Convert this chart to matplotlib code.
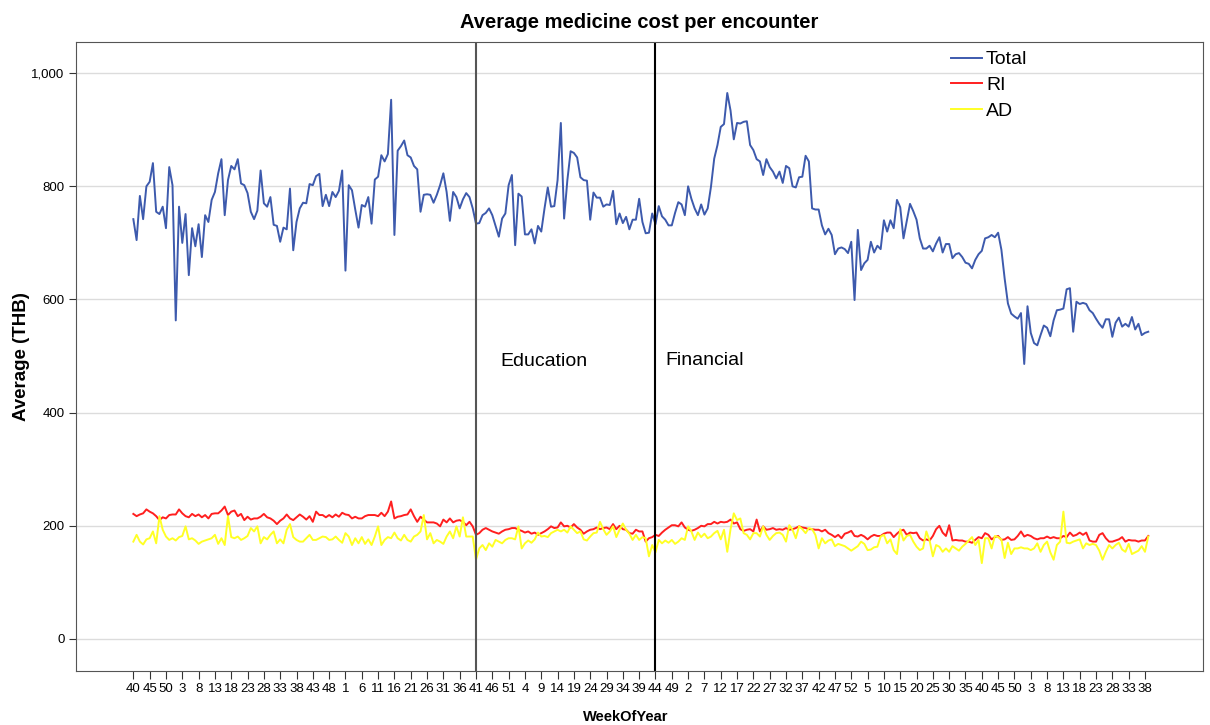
import numpy as np
import matplotlib.pyplot as plt

plt.rcParams['font.family'] = ['Liberation Sans', 'DejaVu Sans']

# average medicine cost per encounter (THB), one value per week
total = [
    742, 705, 783, 742, 800, 808, 841, 755, 751, 764,
    726, 834, 802, 563, 764, 700, 751, 643, 726, 694,
    733, 675, 749, 737, 776, 790, 823, 848, 749, 811,
    836, 830, 848, 805, 802, 788, 755, 742, 757, 828,
    770, 764, 781, 732, 730, 702, 727, 724, 796, 687,
    737, 761, 771, 770, 804, 802, 818, 822, 765, 785,
    765, 790, 781, 792, 828, 651, 802, 793, 759, 727,
    767, 764, 781, 734, 812, 817, 855, 844, 857, 953,
    714, 863, 871, 881, 855, 851, 836, 830, 755, 785,
    786, 785, 771, 785, 802, 823, 790, 739, 790, 781,
    761, 777, 788, 781, 761, 734, 735, 749, 753, 761,
    749, 730, 711, 743, 752, 802, 820, 696, 787, 782,
    715, 715, 724, 699, 730, 720, 761, 798, 764, 765,
    811, 912, 743, 811, 862, 859, 851, 816, 811, 810,
    741, 789, 780, 780, 764, 768, 767, 792, 733, 752,
    735, 746, 724, 741, 741, 778, 737, 717, 718, 752,
    733, 765, 747, 741, 731, 731, 753, 772, 768, 749,
    800, 778, 761, 749, 768, 750, 761, 799, 849, 873,
    905, 910, 965, 934, 883, 912, 911, 914, 915, 873,
    864, 848, 844, 820, 848, 834, 826, 814, 826, 806,
    836, 832, 800, 798, 816, 817, 854, 844, 761, 759,
    759, 731, 715, 725, 714, 680, 690, 692, 689, 682,
    702, 599, 723, 652, 664, 670, 702, 683, 695, 689,
    740, 720, 740, 726, 776, 763, 708, 738, 769, 756,
    741, 708, 690, 690, 695, 685, 699, 710, 683, 698,
    698, 673, 680, 682, 675, 665, 663, 655, 670, 680,
    686, 708, 710, 714, 710, 718, 688, 637, 593, 575,
    570, 566, 576, 486, 588, 541, 523, 519, 537, 554,
    550, 535, 563, 581, 582, 584, 618, 620, 543, 596,
    592, 594, 592, 581, 576, 566, 557, 550, 565, 565,
    534, 559, 568, 552, 557, 552, 569, 547, 557, 537,
    541, 543,
]

ri = [
    221, 217, 220, 222, 229, 225, 222, 217, 210, 215,
    213, 219, 220, 220, 229, 222, 217, 215, 221, 217,
    220, 215, 219, 213, 221, 222, 222, 227, 234, 219,
    225, 227, 217, 221, 210, 216, 211, 213, 213, 216,
    221, 215, 213, 209, 203, 209, 213, 220, 213, 210,
    215, 220, 216, 211, 217, 207, 225, 219, 219, 215,
    219, 215, 220, 216, 223, 220, 219, 213, 216, 213,
    213, 217, 219, 219, 219, 217, 223, 217, 225, 243,
    213, 216, 217, 219, 220, 229, 217, 207, 216, 211,
    206, 206, 206, 204, 199, 211, 206, 213, 206, 209,
    210, 207, 201, 207, 199, 184, 187, 193, 196, 193,
    190, 188, 186, 190, 193, 194, 196, 196, 193, 191,
    188, 190, 186, 188, 184, 187, 190, 194, 199, 196,
    197, 206, 199, 200, 197, 203, 197, 193, 186, 190,
    193, 194, 197, 194, 196, 197, 194, 203, 194, 200,
    194, 193, 187, 186, 193, 190, 190, 172, 178, 180,
    184, 182, 188, 193, 197, 201, 201, 199, 206, 197,
    193, 191, 193, 196, 200, 199, 203, 203, 207, 204,
    207, 206, 207, 211, 204, 206, 194, 191, 193, 194,
    190, 211, 190, 199, 193, 194, 196, 193, 194, 193,
    196, 193, 194, 196, 199, 197, 196, 194, 194, 193,
    193, 190, 193, 187, 184, 180, 184, 178, 186, 188,
    191, 182, 181, 184, 181, 176, 181, 184, 182, 182,
    186, 188, 188, 180, 186, 191, 193, 184, 188, 187,
    188, 178, 174, 176, 174, 182, 194, 200, 188, 182,
    201, 174, 175, 174, 174, 172, 172, 170, 175, 180,
    178, 187, 184, 176, 180, 182, 175, 176, 180, 175,
    176, 182, 190, 181, 184, 182, 178, 176, 178, 178,
    181, 178, 180, 178, 178, 182, 180, 188, 182, 184,
    188, 184, 188, 174, 172, 172, 184, 187, 178, 172,
    172, 174, 176, 180, 172, 175, 174, 174, 172, 174,
    174, 182,
]

ad = [
    172, 184, 172, 167, 176, 178, 190, 169, 217, 193,
    181, 175, 178, 174, 180, 182, 199, 176, 178, 174,
    168, 172, 174, 176, 178, 184, 168, 178, 166, 217,
    180, 178, 181, 175, 178, 182, 196, 190, 199, 169,
    180, 176, 184, 190, 169, 176, 169, 193, 203, 180,
    175, 172, 172, 178, 184, 175, 175, 178, 181, 180,
    175, 176, 181, 175, 170, 187, 181, 166, 178, 169,
    180, 168, 176, 166, 181, 199, 166, 175, 180, 178,
    188, 178, 174, 184, 175, 172, 181, 184, 190, 219,
    176, 187, 169, 175, 172, 168, 181, 190, 178, 199,
    181, 215, 181, 181, 181, 140, 160, 166, 157, 169,
    163, 175, 172, 169, 175, 178, 178, 176, 199, 160,
    169, 174, 170, 176, 188, 181, 182, 180, 187, 190,
    193, 190, 193, 188, 199, 193, 187, 190, 176, 174,
    181, 187, 188, 207, 194, 184, 190, 199, 180, 193,
    204, 193, 186, 175, 184, 175, 180, 178, 146, 166,
    153, 175, 169, 174, 170, 175, 168, 172, 178, 175,
    199, 190, 175, 188, 180, 186, 178, 181, 187, 191,
    176, 193, 154, 194, 222, 210, 213, 187, 184, 176,
    187, 187, 181, 199, 184, 175, 182, 187, 188, 184,
    172, 201, 193, 178, 199, 194, 187, 196, 194, 184,
    160, 178, 169, 174, 176, 164, 168, 166, 164, 160,
    156, 160, 164, 172, 168, 157, 158, 162, 163, 181,
    184, 169, 176, 157, 150, 194, 174, 182, 184, 172,
    163, 157, 160, 190, 174, 146, 166, 163, 154, 160,
    154, 164, 160, 156, 163, 168, 174, 180, 166, 175,
    134, 178, 178, 160, 182, 180, 176, 143, 170, 150,
    160, 160, 162, 160, 160, 157, 160, 169, 154, 166,
    172, 153, 140, 166, 172, 225, 170, 169, 172, 174,
    176, 160, 169, 166, 168, 166, 156, 140, 154, 166,
    160, 166, 170, 158, 154, 168, 150, 153, 156, 164,
    154, 181,
]

week_labels = [
    '40', '45', '50', '3', '8', '13', '18', '23', '28', '33', '38', '43', '48',
    '1', '6', '11', '16', '21', '26', '31', '36', '41', '46', '51',
    '4', '9', '14', '19', '24', '29', '34', '39', '44', '49',
    '2', '7', '12', '17', '22', '27', '32', '37', '42', '47', '52',
    '5', '10', '15', '20', '25', '30', '35', '40', '45', '50',
    '3', '8', '13', '18', '23', '28', '33', '38',
]

# week index where each intervention starts
education_week = 105
financial_week = 160

weeks = np.arange(len(total))

fig = plt.figure(figsize=(12.1, 7.25), dpi=100)
ax = fig.add_axes([0.063, 0.075, 0.931, 0.867])

ax.plot(weeks, total, color='#3d5aad', linewidth=1.4, label='Total')
ax.plot(weeks, ri, color='#ff1f1f', linewidth=1.4, label='RI')
ax.plot(weeks, ad, color='#ffff26', linewidth=1.4, label='AD')

ax.axvline(education_week, color='#555555', linewidth=1.5)
ax.axvline(financial_week, color='black', linewidth=1.5)
ax.text(education_week + 7.5, 490, 'Education', fontsize=14, va='center')
ax.text(financial_week + 3, 493, 'Financial', fontsize=14, va='center')

ax.set_xlim(-17.5, 327.7)
ax.set_ylim(-56, 1055)
ax.set_yticks([0, 200, 400, 600, 800, 1000])
ax.set_yticklabels(['0', '200', '400', '600', '800', '1,000'])
ax.set_xticks(np.arange(0, 5 * len(week_labels), 5))
ax.set_xticklabels(week_labels)
ax.tick_params(axis='x', labelsize=9.5, length=6, color='#333333', pad=3)
ax.tick_params(axis='y', labelsize=9.5, length=5, color='#333333')
ax.grid(axis='y', color='#dcdcdc', linewidth=1)
ax.set_axisbelow(True)
for s in ax.spines.values():
    s.set_color('#555555')

ax.set_title('Average medicine cost per encounter', fontsize=14.5, fontweight='bold', pad=10)
ax.set_xlabel('WeekOfYear', fontsize=10.5, fontweight='bold')
ax.xaxis.set_label_coords(0.488, -0.062)
ax.set_ylabel('Average (THB)', fontsize=13.5, fontweight='bold', labelpad=1)

ax.legend(loc='upper left', bbox_to_anchor=(0.761, 1.014), frameon=False,
          fontsize=14, handlelength=1.6, labelspacing=0.42, handletextpad=0.2)

fig.savefig('out.png', dpi=100)
